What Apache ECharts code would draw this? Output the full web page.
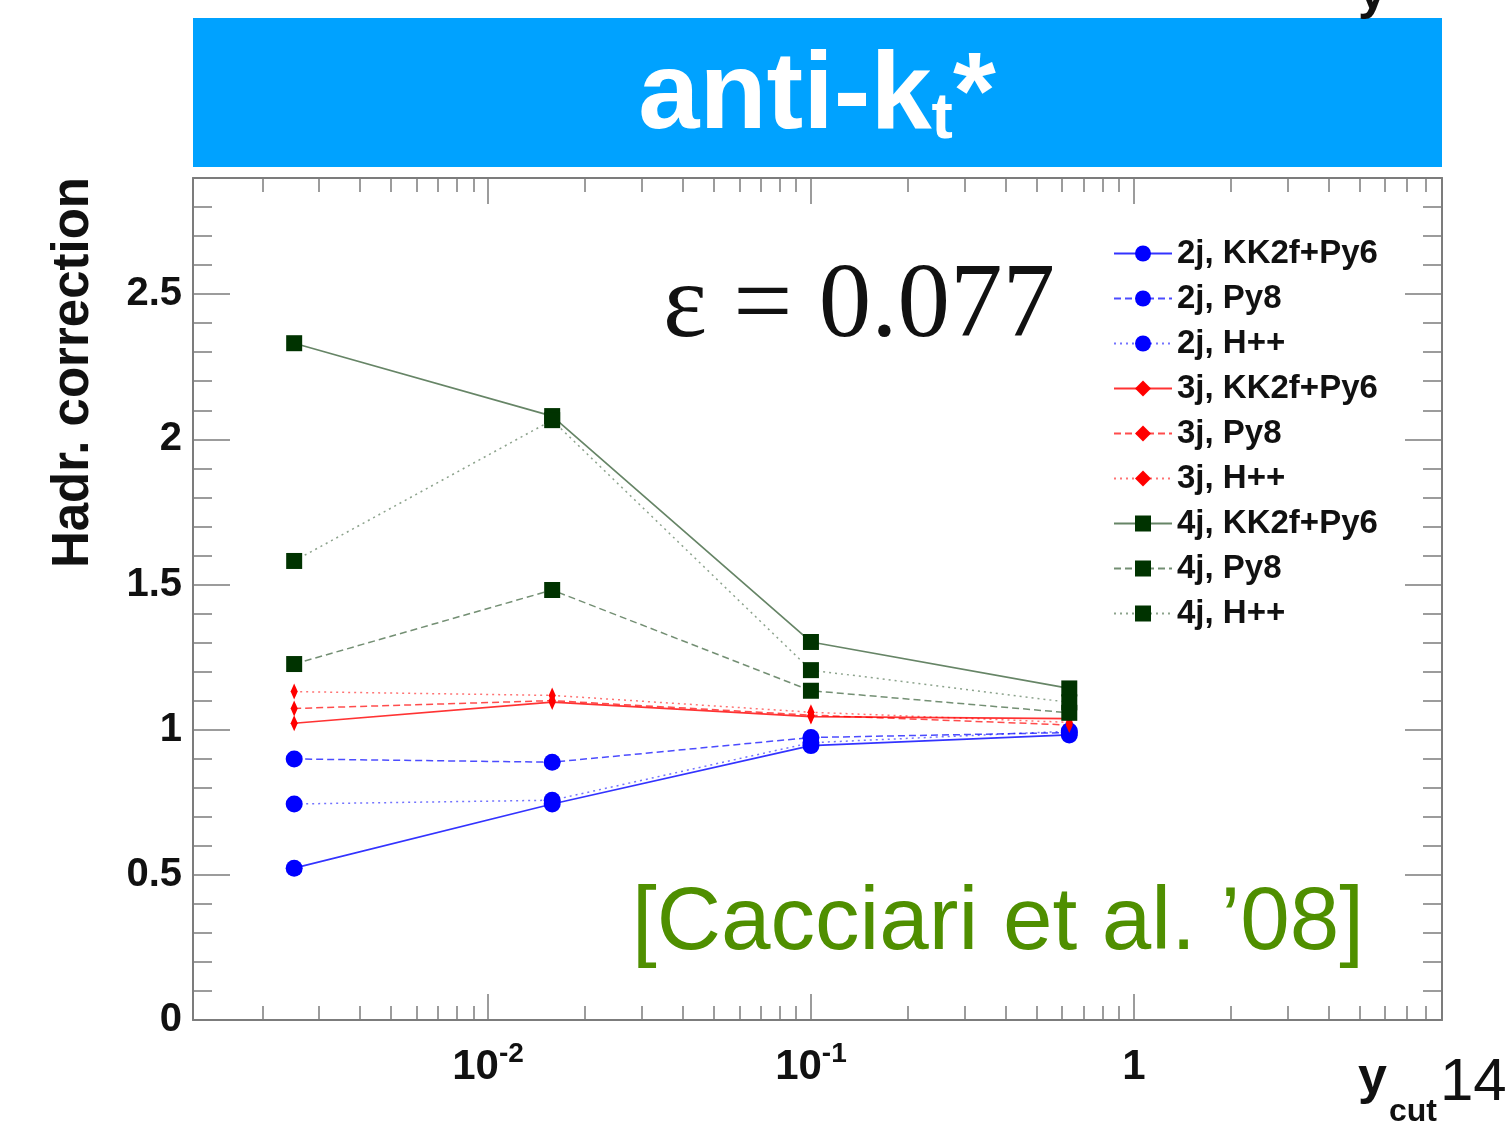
<!DOCTYPE html>
<html>
<head>
<meta charset="utf-8">
<script src="https://cdn.jsdelivr.net/npm/echarts@6/dist/echarts.min.js"></script>
<style>
  html, body { margin: 0; padding: 0; background: #ffffff; }
  #chart { width: 1511px; height: 1123px; }
</style>
</head>
<body>
<div id="chart"></div>
<script>
// y_cut values at which the hadronisation corrections were evaluated
const ycutValues = [0.00251, 0.0158, 0.1, 0.631];

// Hadronisation corrections per jet multiplicity and generator
const corr2jKK2fPy6 = [0.523, 0.744, 0.945, 0.982];
const corr2jPy8     = [0.899, 0.888, 0.973, 0.990];
const corr2jHpp     = [0.744, 0.757, 0.955, 0.995];
const corr3jKK2fPy6 = [1.022, 1.095, 1.045, 1.038];
const corr3jPy8     = [1.073, 1.100, 1.050, 1.016];
const corr3jHpp     = [1.131, 1.118, 1.060, 1.025];
const corr4jKK2fPy6 = [2.331, 2.080, 1.302, 1.142];
const corr4jPy8     = [1.226, 1.481, 1.134, 1.058];
const corr4jHpp     = [1.581, 2.066, 1.205, 1.094];

const seriesNames = [
  '2j, KK2f+Py6', '2j, Py8', '2j, H++',
  '3j, KK2f+Py6', '3j, Py8', '3j, H++',
  '4j, KK2f+Py6', '4j, Py8', '4j, H++'
];

// Axis ranges and tick positions
const xRange = [0.00122, 9];
const yRange = [0, 2.9];
const xMajorTicks = [0.01, 0.1, 1];
const yMajorTicks = [0, 0.5, 1, 1.5, 2, 2.5];

const xMinorTicks = [];
[0.001, 0.01, 0.1, 1].forEach(function (decade) {
  for (let k = 2; k <= 9; k++) {
    const v = +(k * decade).toPrecision(3);
    if (v > xRange[0] && v < xRange[1]) xMinorTicks.push(v);
  }
});
const yMinorTicks = [];
for (let i = 1; i < 29; i++) {
  if (i % 5 !== 0) yMinorTicks.push(+(i * 0.1).toFixed(1));
}

const FONT = '"Liberation Sans", Arial, Helvetica, sans-serif';
const FRAME = '#7c7c7c';
const BLUE = '#0000ff', RED = '#ff0000', GREEN = '#003300';
const DASH = [7, 4];
const DOT = [2, 4];
const diamondPath = 'path://M4,0L8,9L4,18L0,9Z';

function makeSeries(name, values, color, symbol, size, dash, width, opacity) {
  return {
    name: name,
    type: 'line',
    xAxisIndex: 0,
    yAxisIndex: 0,
    data: ycutValues.map(function (x, i) { return [x, values[i]]; }),
    symbol: symbol,
    symbolSize: size,
    symbolKeepAspect: true,
    showSymbol: true,
    itemStyle: { color: color, opacity: 1 },
    lineStyle: { color: color, width: width, type: dash, opacity: opacity },
    emphasis: { disabled: true },
    animation: false
  };
}

const series = [
  makeSeries(seriesNames[0], corr2jKK2fPy6, BLUE, 'circle', 17, 'solid', 1.7, 0.8),
  makeSeries(seriesNames[1], corr2jPy8, BLUE, 'circle', 17, DASH, 1.5, 0.7),
  makeSeries(seriesNames[2], corr2jHpp, BLUE, 'circle', 17, DOT, 1.5, 0.55),
  makeSeries(seriesNames[3], corr3jKK2fPy6, RED, diamondPath, 16, 'solid', 1.7, 0.8),
  makeSeries(seriesNames[4], corr3jPy8, RED, diamondPath, 16, DASH, 1.5, 0.7),
  makeSeries(seriesNames[5], corr3jHpp, RED, diamondPath, 16, DOT, 1.5, 0.55),
  makeSeries(seriesNames[6], corr4jKK2fPy6, GREEN, 'rect', 16, 'solid', 1.7, 0.6),
  makeSeries(seriesNames[7], corr4jPy8, GREEN, 'rect', 16, DASH, 1.5, 0.55),
  makeSeries(seriesNames[8], corr4jHpp, GREEN, 'rect', 16, DOT, 1.5, 0.45)
];

function logLabel(v) {
  const e = Math.round(Math.log10(v));
  if (e === 0) return '{b|1}';
  return '{b|10}{s|' + (e < 0 ? '-' : '') + Math.abs(e) + '}';
}

function xAxisDef(position, ticks, len, showLine, showLabel) {
  return {
    type: 'log',
    logBase: 10,
    position: position,
    min: xRange[0],
    max: xRange[1],
    axisLine: { show: showLine, onZero: false, lineStyle: { color: FRAME, width: 2 } },
    axisTick: { show: true, inside: true, length: len, customValues: ticks,
                lineStyle: { color: FRAME, width: 1.5 } },
    axisLabel: showLabel ? {
      show: true,
      customValues: ticks,
      margin: 23,
      formatter: logLabel,
      rich: {
        b: { fontFamily: FONT, fontWeight: 'bold', fontSize: 42, color: '#111', lineHeight: 48 },
        s: { fontFamily: FONT, fontWeight: 'bold', fontSize: 28, color: '#111', lineHeight: 48, padding: [0, 0, 26, 0] }
      }
    } : { show: false },
    splitLine: { show: false },
    minorTick: { show: false },
    axisPointer: { show: false }
  };
}

function yAxisDef(position, ticks, len, showLine, showLabel) {
  return {
    type: 'value',
    position: position,
    min: yRange[0],
    max: yRange[1],
    axisLine: { show: showLine, onZero: false, lineStyle: { color: FRAME, width: 2 } },
    axisTick: { show: true, inside: true, length: len, customValues: ticks,
                lineStyle: { color: FRAME, width: 1.5 } },
    axisLabel: showLabel ? {
      show: true,
      customValues: ticks,
      margin: 11,
      fontFamily: FONT,
      fontWeight: 'bold',
      fontSize: 40,
      color: '#111',
      formatter: function (v) { return String(v); }
    } : { show: false },
    splitLine: { show: false },
    minorTick: { show: false },
    axisPointer: { show: false }
  };
}

const option = {
  animation: false,
  backgroundColor: '#ffffff',
  grid: { left: 193, top: 178, right: 69, bottom: 103, containLabel: false },
  xAxis: [
    xAxisDef('bottom', xMajorTicks, 26, true, true),
    xAxisDef('bottom', xMinorTicks, 14, false, false),
    xAxisDef('top', xMajorTicks, 26, true, false),
    xAxisDef('top', xMinorTicks, 14, false, false)
  ],
  yAxis: [
    yAxisDef('left', yMajorTicks, 37, true, true),
    yAxisDef('left', yMinorTicks, 19, false, false),
    yAxisDef('right', yMajorTicks, 37, true, false),
    yAxisDef('right', yMinorTicks, 19, false, false)
  ],
  legend: {
    data: seriesNames,
    orient: 'vertical',
    left: 1113,
    top: 237,
    padding: 0,
    itemWidth: 58,
    itemHeight: 20,
    itemGap: 12,
    selectedMode: false,
    textStyle: { fontFamily: FONT, fontWeight: 'bold', fontSize: 33, color: '#111', lineHeight: 30 }
  },
  series: series,
  graphic: [
    {
      type: 'rect', silent: true, z: 10,
      shape: { x: 193, y: 18, width: 1249, height: 149 },
      style: { fill: '#00a2ff' }
    },
    {
      type: 'text', silent: true, z: 11,
      x: 817, y: 98,
      style: {
        text: '{a|anti-k}{t|t}{a|*}',
        align: 'center', verticalAlign: 'middle',
        rich: {
          a: { fontFamily: FONT, fontWeight: 'bold', fontSize: 110, fill: '#ffffff', lineHeight: 134 },
          t: { fontFamily: FONT, fontWeight: 'bold', fontSize: 64, fill: '#ffffff', lineHeight: 64, padding: [44, 0, 0, 0] }
        }
      }
    },
    {
      type: 'text', silent: true, z: 11,
      x: 663, y: 308,
      style: {
        text: 'ε = 0.077',
        fontFamily: '"Liberation Serif", "DejaVu Serif", serif',
        fontSize: 105, fill: '#111',
        align: 'left', verticalAlign: 'middle'
      }
    },
    {
      type: 'text', silent: true, z: 11,
      x: 632, y: 924,
      style: {
        text: '[Cacciari et al. ’08]',
        fontFamily: FONT, fontSize: 89, fill: '#4f8f00',
        align: 'left', verticalAlign: 'middle'
      }
    },
    {
      type: 'text', silent: true, z: 11,
      x: 74, y: 177, rotation: Math.PI / 2,
      style: {
        text: 'Hadr. correction',
        fontFamily: FONT, fontWeight: 'bold', fontSize: 51, fill: '#111',
        align: 'right', verticalAlign: 'middle'
      }
    },
    {
      type: 'text', silent: true, z: 11,
      x: 1358, y: 1079,
      style: {
        text: 'y',
        fontFamily: FONT, fontWeight: 'bold', fontSize: 52, fill: '#111',
        align: 'left', verticalAlign: 'middle'
      }
    },
    {
      type: 'text', silent: true, z: 11,
      x: 1389, y: 1112,
      style: {
        text: 'cut',
        fontFamily: FONT, fontWeight: 'bold', fontSize: 32, fill: '#111',
        align: 'left', verticalAlign: 'middle'
      }
    },
    {
      type: 'text', silent: true, z: 11,
      x: 1440, y: 1083,
      style: {
        text: '14',
        fontFamily: FONT, fontSize: 60, fill: '#111',
        align: 'left', verticalAlign: 'middle'
      }
    },
    {
      type: 'text', silent: true, z: 11,
      x: 1358, y: -6,
      style: {
        text: 'y',
        fontFamily: FONT, fontWeight: 'bold', fontSize: 52, fill: '#111',
        align: 'left', verticalAlign: 'middle'
      }
    }
  ]
};

const chart = echarts.init(document.getElementById('chart'), null, { renderer: 'canvas' });
chart.setOption(option);
</script>
</body>
</html>
